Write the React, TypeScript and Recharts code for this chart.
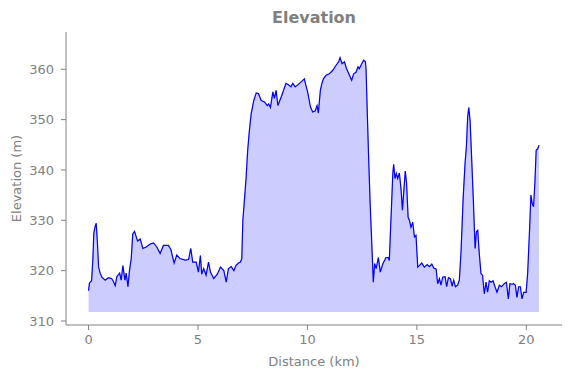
import { ComposedChart, Area, Line, XAxis, YAxis } from "recharts";

const DISTANCE_KM = [
  0.0, 0.04, 0.08, 0.14, 0.2, 0.24, 0.3, 0.35, 0.4, 0.46, 0.53, 0.61, 0.76, 0.91, 1.06, 1.14, 1.22, 1.29, 1.42, 1.49,
  1.57, 1.66, 1.72, 1.8, 1.87, 1.95, 2.02, 2.1, 2.18, 2.24, 2.36, 2.48, 2.63, 2.82, 2.97, 3.12, 3.27, 3.42, 3.65, 3.76,
  3.91, 4.03, 4.18, 4.41, 4.57, 4.67, 4.76, 4.92, 5.02, 5.11, 5.17, 5.26, 5.37, 5.48, 5.57, 5.72, 5.88, 6.03, 6.18, 6.29,
  6.39, 6.52, 6.64, 6.73, 6.85, 6.94, 7.0, 7.05, 7.12, 7.2, 7.27, 7.35, 7.43, 7.55, 7.66, 7.76, 7.89, 8.04, 8.16, 8.23,
  8.31, 8.42, 8.49, 8.57, 8.65, 8.8, 9.02, 9.13, 9.25, 9.33, 9.44, 9.56, 9.71, 9.86, 9.94, 10.01, 10.14, 10.24, 10.35, 10.44,
  10.5, 10.59, 10.66, 10.73, 10.85, 11.0, 11.16, 11.31, 11.43, 11.49, 11.58, 11.69, 11.79, 11.92, 12.02, 12.11, 12.22, 12.31, 12.37, 12.47,
  12.57, 12.65, 12.68, 12.74, 12.8, 12.86, 12.94, 13.01, 13.07, 13.14, 13.24, 13.33, 13.44, 13.59, 13.7, 13.74, 13.82, 13.9, 13.94, 14.0,
  14.06, 14.12, 14.2, 14.28, 14.34, 14.4, 14.47, 14.53, 14.6, 14.66, 14.73, 14.81, 14.89, 14.96, 15.04, 15.11, 15.22, 15.34, 15.47, 15.57,
  15.68, 15.77, 15.88, 15.95, 16.03, 16.1, 16.18, 16.29, 16.36, 16.44, 16.53, 16.61, 16.68, 16.76, 16.86, 16.94, 17.02, 17.11, 17.2, 17.26,
  17.32, 17.37, 17.43, 17.5, 17.58, 17.66, 17.72, 17.78, 17.85, 17.93, 18.0, 18.08, 18.16, 18.23, 18.31, 18.39, 18.48, 18.57, 18.66, 18.77,
  18.87, 18.99, 19.09, 19.18, 19.25, 19.35, 19.42, 19.5, 19.57, 19.65, 19.73, 19.8, 19.88, 19.99, 20.06, 20.14, 20.21, 20.27, 20.33, 20.39,
  20.45, 20.52, 20.58,
];

const ELEVATION_M = [
  316.0, 317.5, 317.7, 318.0, 322.5, 327.4, 328.8, 329.4, 326.0, 320.7, 319.5, 318.7, 318.1, 318.6, 318.4, 317.8, 317.0, 318.8, 319.5, 318.1,
  321.0, 318.1, 319.5, 316.8, 320.0, 322.4, 327.3, 327.8, 326.7, 325.9, 326.3, 324.4, 324.7, 325.3, 325.5, 324.7, 323.4, 325.0, 325.0, 324.2,
  321.5, 323.1, 322.4, 322.1, 322.2, 324.4, 321.7, 321.7, 319.7, 323.0, 319.3, 320.4, 319.1, 321.7, 319.7, 318.4, 319.3, 320.7, 320.0, 317.7,
  320.4, 320.8, 320.0, 321.0, 321.5, 321.7, 322.4, 330.0, 334.0, 338.6, 343.9, 347.9, 351.2, 353.8, 355.3, 355.2, 353.8, 353.5, 352.8, 353.1,
  352.4, 355.5, 354.2, 355.8, 352.8, 354.5, 357.2, 356.9, 356.5, 357.2, 356.5, 356.9, 357.5, 358.1, 356.6, 355.5, 352.5, 351.5, 351.7, 352.8,
  351.3, 355.8, 357.2, 358.1, 358.8, 359.1, 359.8, 360.8, 361.5, 362.3, 361.1, 361.5, 360.1, 358.8, 357.8, 359.1, 359.4, 360.5, 360.1, 361.0,
  361.8, 361.5, 359.8, 350.5, 341.9, 334.0, 325.4, 317.7, 321.4, 320.4, 322.6, 319.7, 321.3, 322.6, 322.6, 322.0, 330.6, 339.3, 341.1, 338.3,
  339.3, 338.3, 339.4, 336.0, 332.0, 335.7, 339.8, 337.3, 330.6, 330.0, 328.6, 329.6, 326.7, 327.0, 320.7, 321.0, 321.5, 320.7, 321.2, 320.8,
  321.3, 320.5, 320.3, 317.4, 318.4, 317.1, 318.7, 318.8, 316.8, 318.6, 318.4, 316.9, 318.1, 316.8, 317.1, 318.1, 324.0, 334.0, 341.3, 344.5,
  350.5, 352.4, 349.9, 342.6, 334.0, 324.4, 327.7, 328.0, 323.4, 319.4, 319.1, 315.4, 317.7, 315.7, 318.0, 317.7, 318.0, 316.8, 315.7, 317.1,
  316.8, 317.4, 317.7, 314.4, 317.4, 317.3, 317.4, 317.1, 314.7, 316.8, 316.8, 314.4, 315.7, 315.7, 319.4, 327.3, 335.0, 333.3, 332.7, 337.3,
  343.9, 344.2, 344.9,
];

const X_TICKS = [0, 5, 10, 15, 20];
const Y_TICKS = [310, 320, 330, 340, 350, 360];
const FILL_BASE = 311.8;

const GRAY = "#808080";
const FONT = "'DejaVu Sans', sans-serif";

const data = DISTANCE_KM.map((d, i) => ({ d, e: ELEVATION_M[i] }));

export default function App() {
  return (
    <div style={{ position: "absolute", left: 0, top: 0, width: 571, height: 378, background: "#fff", fontFamily: FONT }}>
      <div
        style={{
          position: "absolute",
          left: 66,
          width: 496,
          top: 8,
          textAlign: "center",
          fontWeight: "bold",
          fontSize: 16,
          color: GRAY,
          lineHeight: "20px",
        }}
      >
        Elevation
      </div>
      <ComposedChart width={571} height={378} data={data} margin={{ top: 32, right: 9, bottom: 0, left: 0 }}>
        <XAxis
          dataKey="d"
          type="number"
          domain={[-1.03, 21.63]}
          ticks={X_TICKS}
          allowDataOverflow
          height={53}
          tickSize={5}
          tickMargin={5}
          stroke={GRAY}
          tick={{ fill: GRAY, fontSize: 13, fontFamily: FONT }}
          label={{
            content: (p: any) => (
              <text
                x={p.viewBox.x + p.viewBox.width / 2}
                y={p.viewBox.y + 41}
                textAnchor="middle"
                fill={GRAY}
                fontSize={13}
                fontFamily={FONT}
              >
                Distance (km)
              </text>
            ),
          }}
        />
        <YAxis
          type="number"
          domain={[309.2, 367.4]}
          ticks={Y_TICKS}
          allowDataOverflow
          width={66}
          tickSize={5}
          tickMargin={7}
          stroke={GRAY}
          tick={{ fill: GRAY, fontSize: 13, fontFamily: FONT }}
          label={{
            content: (p: any) => {
              const cx = p.viewBox.x + 16;
              const cy = p.viewBox.y + p.viewBox.height / 2;
              return (
                <text
                  x={cx}
                  y={cy}
                  transform={`rotate(-90 ${cx} ${cy})`}
                  textAnchor="middle"
                  dominantBaseline="central"
                  fill={GRAY}
                  fontSize={13}
                  fontFamily={FONT}
                >
                  Elevation (m)
                </text>
              );
            },
          }}
        />
        <Area
          dataKey="e"
          type="linear"
          baseValue={FILL_BASE}
          fill="#0000ff"
          fillOpacity={0.2}
          stroke="#0000ff"
          strokeOpacity={0.2}
          strokeWidth={1}
          isAnimationActive={false}
        />
        <Line dataKey="e" type="linear" stroke="#0000ff" strokeWidth={1.2} dot={false} isAnimationActive={false} />
      </ComposedChart>
    </div>
  );
}
